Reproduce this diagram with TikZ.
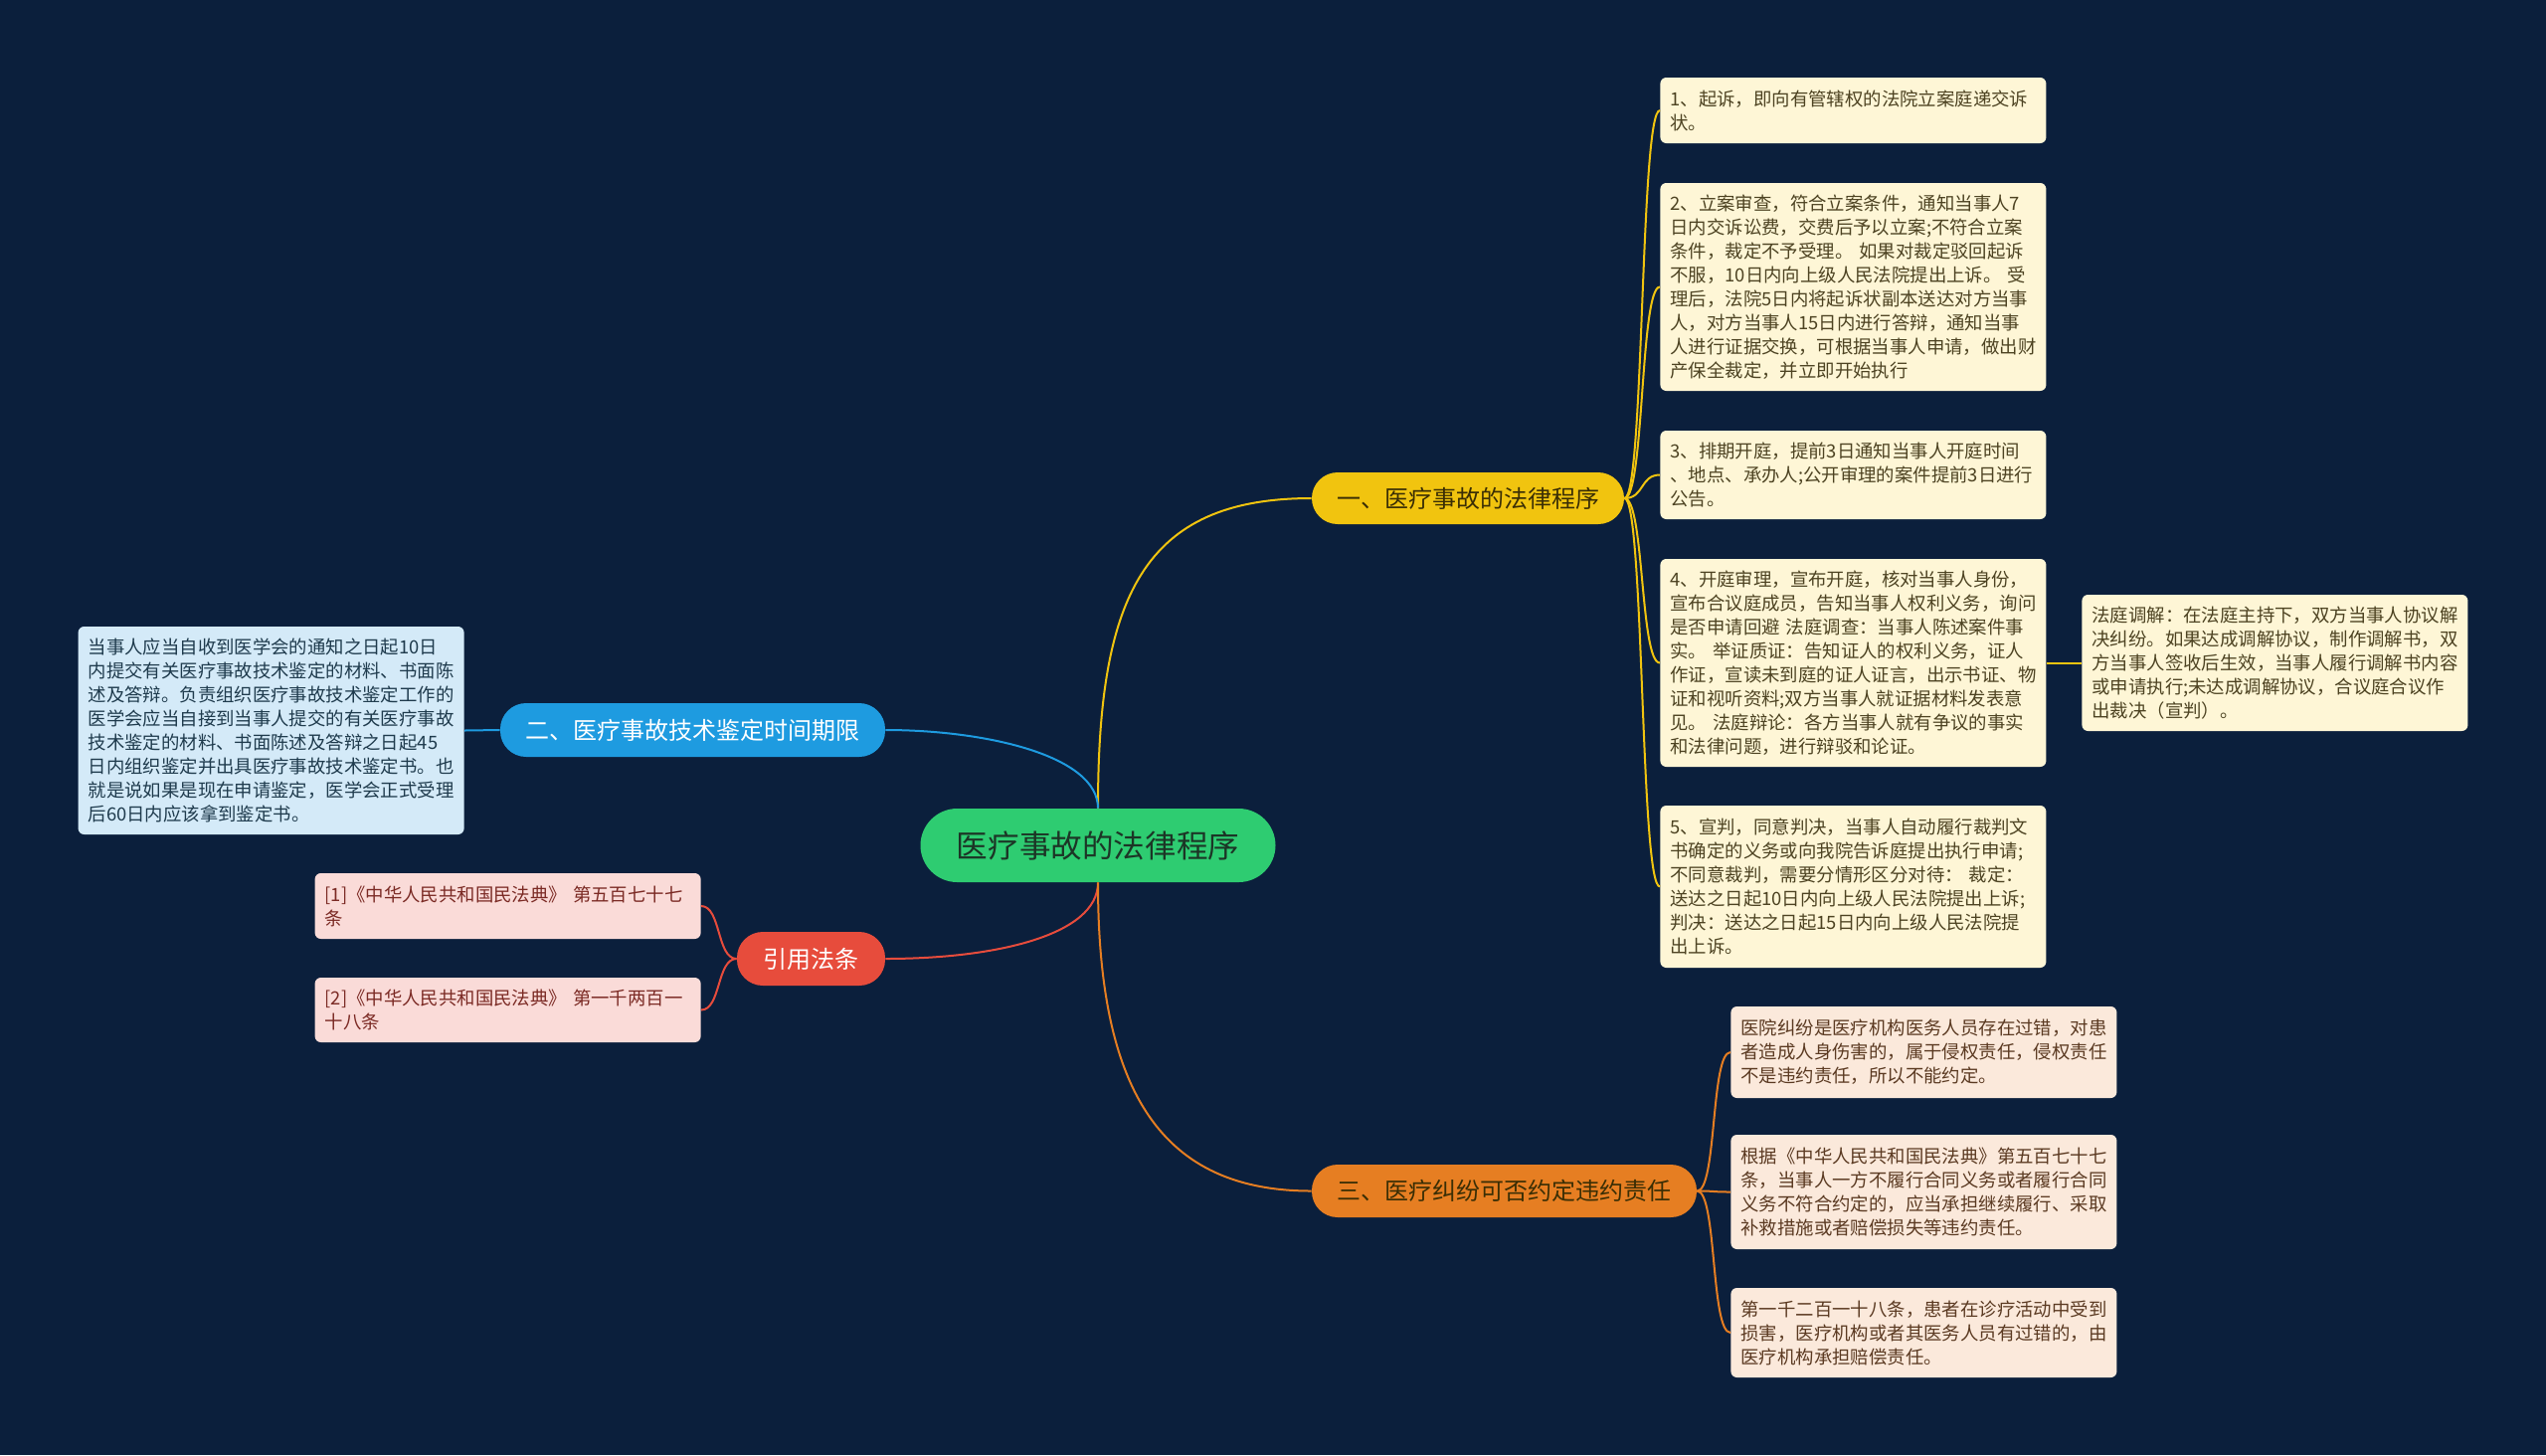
\documentclass[tikz,border=0pt]{standalone}
\usepackage{fontspec}
\setmainfont{Noto Sans CJK SC}
\definecolor{bg}{HTML}{0B1F3C}
\definecolor{cgreen}{HTML}{2ECC71}
\definecolor{ctext}{HTML}{1C3526}
\definecolor{cyellow}{HTML}{F1C40F}
\definecolor{cblue}{HTML}{1E9BE0}
\definecolor{cred}{HTML}{E74C3C}
\definecolor{corange}{HTML}{E67E22}
\definecolor{ylf}{HTML}{FEF6D6}
\definecolor{ylt}{HTML}{4D4322}
\definecolor{olf}{HTML}{FBE9DB}
\definecolor{olt}{HTML}{5B3A22}
\definecolor{blf}{HTML}{D4EAF8}
\definecolor{blt}{HTML}{1F3B4D}
\definecolor{rlf}{HTML}{FADBD8}
\definecolor{rlt}{HTML}{7B2A24}
\definecolor{darkt}{HTML}{3A2E05}
\begin{document}
\begin{tikzpicture}[x=0.5pt,y=-0.5pt,
  leaf/.style={rectangle, rounded corners=3pt, inner xsep=5pt, inner ysep=2pt,
    text width=184pt, align=left, font=\fontsize{9.2pt}{12pt}\selectfont},
  yleaf/.style={leaf, fill=ylf, text=ylt, anchor=west},
  oleaf/.style={leaf, fill=olf, text=olt, anchor=west},
  bleaf/.style={leaf, fill=blf, text=blt, anchor=east},
  rleaf/.style={leaf, fill=rlf, text=rlt, anchor=east},
  branch/.style={rectangle, rounded corners=13pt, inner xsep=0pt, inner ysep=0pt,
    font=\fontsize{12pt}{14pt}\selectfont},
  link/.style={line width=1pt}
]
\useasboundingbox[fill=bg] (0,0) rectangle (2560,1463);

% central and branches
\node[rectangle, rounded corners=18.5pt, fill=cgreen, text=ctext, minimum width=178.5pt, minimum height=37pt,
  font=\fontsize{15.8pt}{18pt}\selectfont] (c) at (1104,850) {医疗事故的法律程序};
\node[branch, fill=cyellow, text=darkt, minimum width=157pt, minimum height=26pt] (yb) at (1476,501) {一、医疗事故的法律程序};
\node[branch, fill=cblue, text=white, minimum width=193.5pt, minimum height=27pt] (bb) at (696.5,734) {二、医疗事故技术鉴定时间期限};
\node[branch, fill=cred, text=white, minimum width=74.5pt, minimum height=27pt] (rb) at (815.5,964) {引用法条};
\node[branch, fill=corange, text=darkt, minimum width=193.5pt, minimum height=26.5pt] (ob) at (1512.5,1197.5) {三、医疗纠纷可否约定违约责任};

% yellow leaves
\node[yleaf, minimum height=33pt] (L1) at (1669,111) {1、起诉，即向有管辖权的法院立案庭递交诉\\状。};
\node[yleaf, minimum height=104.5pt] (L2) at (1669,288.5) {2、立案审查，符合立案条件，通知当事人7\\日内交诉讼费，交费后予以立案;不符合立案\\条件，裁定不予受理。~如果对裁定驳回起诉\\不服，10日内向上级人民法院提出上诉。~受\\理后，法院5日内将起诉状副本送达对方当事\\人，对方当事人15日内进行答辩，通知当事\\人进行证据交换，可根据当事人申请，做出财\\产保全裁定，并立即开始执行};
\node[yleaf, minimum height=44.5pt] (L3) at (1669,477.5) {3、排期开庭，提前3日通知当事人开庭时间\\、地点、承办人;公开审理的案件提前3日进行\\公告。};
\node[yleaf, minimum height=104.5pt] (L4) at (1669,666.5) {4、开庭审理，宣布开庭，核对当事人身份，\\宣布合议庭成员，告知当事人权利义务，询问\\是否申请回避~法庭调查：当事人陈述案件事\\实。~举证质证：告知证人的权利义务，证人\\作证，宣读未到庭的证人证言，出示书证、物\\证和视听资料;双方当事人就证据材料发表意\\见。~法庭辩论：各方当事人就有争议的事实\\和法律问题，进行辩驳和论证。};
\node[yleaf, minimum height=68.5pt] (L4a) at (2093,666.5) {法庭调解：在法庭主持下，双方当事人协议解\\决纠纷。如果达成调解协议，制作调解书，双\\方当事人签收后生效，当事人履行调解书内容\\或申请执行;未达成调解协议，合议庭合议作\\出裁决（宣判）。};
\node[yleaf, minimum height=81.5pt] (L5) at (1669,891.5) {5、宣判，同意判决，当事人自动履行裁判文\\书确定的义务或向我院告诉庭提出执行申请;\\不同意裁判，需要分情形区分对待：~裁定：\\送达之日起10日内向上级人民法院提出上诉;\\判决：送达之日起15日内向上级人民法院提\\出上诉。};

% orange leaves
\node[oleaf, minimum height=46pt] (O1) at (1740,1058) {医院纠纷是医疗机构医务人员存在过错，对患\\者造成人身伤害的，属于侵权责任，侵权责任\\不是违约责任，所以不能约定。};
\node[oleaf, minimum height=57.5pt] (O2) at (1740,1198.5) {根据《中华人民共和国民法典》第五百七十七\\条，当事人一方不履行合同义务或者履行合同\\义务不符合约定的，应当承担继续履行、采取\\补救措施或者赔偿损失等违约责任。};
\node[oleaf, minimum height=45pt] (O3) at (1740,1340) {第一千二百一十八条，患者在诊疗活动中受到\\损害，医疗机构或者其医务人员有过错的，由\\医疗机构承担赔偿责任。};

% blue leaf
\node[bleaf, minimum height=104.5pt] (B1) at (467,734.5) {当事人应当自收到医学会的通知之日起10日\\内提交有关医疗事故技术鉴定的材料、书面陈\\述及答辩。负责组织医疗事故技术鉴定工作的\\医学会应当自接到当事人提交的有关医疗事故\\技术鉴定的材料、书面陈述及答辩之日起45\\日内组织鉴定并出具医疗事故技术鉴定书。也\\就是说如果是现在申请鉴定，医学会正式受理\\后60日内应该拿到鉴定书。};

% red leaves
\node[rleaf, minimum height=33pt] (R1) at (705,911) {[1]《中华人民共和国民法典》~第五百七十七\\条};
\node[rleaf, minimum height=32.5pt] (R2) at (705,1015.5) {[2]《中华人民共和国民法典》~第一千两百一\\十八条};

% central connectors
\draw[link, cyellow] (c.north) .. controls +(0,-213) and +(-169,0) .. (yb.west);
\draw[link, cblue] (c.north) .. controls +(0,-53) and +(100,0) .. (bb.east);
\draw[link, cred] (c.south) .. controls +(0,53) and +(110,0) .. (rb.east);
\draw[link, corange] (c.south) .. controls +(0,213) and +(-149,0) .. (ob.west);

% yellow branch to leaves
\foreach \n in {L1,L2,L3,L4,L5}
  \draw[link, cyellow] (yb.east) .. controls +(20,0) and +(-20,0) .. (\n.west);
\draw[link, cyellow] (L4.east) -- (L4a.west);

% orange branch to leaves
\foreach \n in {O1,O2,O3}
  \draw[link, corange] (ob.east) .. controls +(20,0) and +(-20,0) .. (\n.west);

% blue and red
\draw[link, cblue] (bb.west) -- (B1.east);
\foreach \n in {R1,R2}
  \draw[link, cred] (rb.west) .. controls +(-20,0) and +(20,0) .. (\n.east);
\end{tikzpicture}
\end{document}
